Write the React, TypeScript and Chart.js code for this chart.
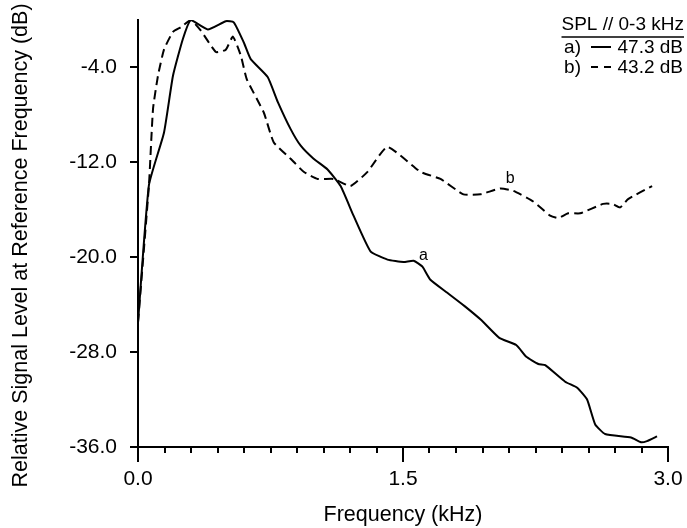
import React, { useEffect, useRef } from "react";
import { Chart, registerables } from "chart.js";

Chart.register(...registerables);

// Curve a) solid — frequency (kHz) and relative level (dB)
const FREQ_A = [0, 0.062, 0.147, 0.198, 0.254, 0.299, 0.395, 0.497, 0.542, 0.599, 0.638, 0.734, 0.791, 0.864, 0.921, 0.994, 1.073, 1.147, 1.22, 1.316, 1.412, 1.503, 1.56, 1.61, 1.655, 1.751, 1.847, 1.943, 2.045, 2.141, 2.198, 2.266, 2.305, 2.418, 2.486, 2.542, 2.588, 2.644, 2.791, 2.847, 2.881, 2.938];
const LEVEL_A = [-25.5, -13.9, -9.5, -4.7, -1.6, 0.0, -0.8, -0.1, -0.2, -1.9, -3.3, -4.8, -6.9, -9.2, -10.6, -11.7, -12.6, -14.0, -16.5, -19.5, -20.2, -20.4, -20.3, -20.8, -21.9, -23.0, -24.1, -25.3, -26.8, -27.4, -28.4, -29.0, -29.1, -30.5, -31.0, -32.0, -34.1, -34.9, -35.2, -35.6, -35.5, -35.1];

// Curve b) dashed
const FREQ_B = [0, 0.062, 0.085, 0.113, 0.147, 0.198, 0.243, 0.299, 0.356, 0.441, 0.497, 0.537, 0.582, 0.616, 0.712, 0.768, 0.864, 0.938, 1.017, 1.107, 1.203, 1.299, 1.412, 1.599, 1.712, 1.842, 1.938, 2.051, 2.124, 2.237, 2.333, 2.379, 2.435, 2.503, 2.633, 2.684, 2.729, 2.774, 2.91];
const LEVEL_B = [-25.5, -13.9, -7.5, -4.7, -2.5, -1.0, -0.6, 0.0, -0.9, -2.7, -2.5, -1.4, -3.0, -5.0, -7.8, -10.3, -11.7, -12.8, -13.4, -13.4, -14.0, -12.8, -10.7, -12.8, -13.4, -14.7, -14.7, -14.2, -14.4, -15.3, -16.5, -16.7, -16.3, -16.3, -15.5, -15.5, -15.8, -15.1, -14.0];

const X_TICKS = [0, 0.15, 0.3, 0.45, 0.6, 0.75, 0.9, 1.05, 1.2, 1.35, 1.5, 1.65, 1.8, 1.95, 2.1, 2.25, 2.4, 2.55, 2.7, 2.85, 3.0];
const X_MAJOR = [0, 1.5, 3.0];
const Y_TICKS = [-36, -28, -20, -12, -4];

const LABEL_A = { text: "a", x: 1.616, y: -19.9 };
const LABEL_B = { text: "b", x: 2.107, y: -13.4 };

const LEGEND_TITLE = "SPL // 0-3 kHz";
const LEGEND_ROWS = [
  { key: "a)", value: "47.3 dB", dash: [] as number[] },
  { key: "b)", value: "43.2 dB", dash: [7, 6] },
];

const FONT = "'Liberation Sans', Arial, Helvetica, sans-serif";

const overlayPlugin = {
  id: "overlay",
  afterDraw(chart: any) {
    const { ctx } = chart;
    const x = chart.scales.x;
    const y = chart.scales.y;
    ctx.save();
    ctx.strokeStyle = "#000";
    ctx.fillStyle = "#000";
    // long major ticks on the x axis
    ctx.lineWidth = 2;
    for (const v of X_MAJOR) {
      const px = Math.round(x.getPixelForValue(v));
      ctx.beginPath();
      ctx.moveTo(px, y.bottom);
      ctx.lineTo(px, y.bottom + 15);
      ctx.stroke();
    }
    // curve labels
    ctx.font = `16px ${FONT}`;
    ctx.textAlign = "center";
    ctx.textBaseline = "middle";
    for (const l of [LABEL_A, LABEL_B]) {
      ctx.fillText(l.text, x.getPixelForValue(l.x), y.getPixelForValue(l.y));
    }
    // legend
    ctx.font = `19px ${FONT}`;
    ctx.textAlign = "right";
    ctx.fillText(LEGEND_TITLE, 684, 25);
    const w = ctx.measureText(LEGEND_TITLE).width;
    ctx.lineWidth = 1.5;
    ctx.beginPath();
    ctx.moveTo(684 - w, 37);
    ctx.lineTo(684, 37);
    ctx.stroke();
    LEGEND_ROWS.forEach((r, i) => {
      const yy = 48 + i * 20;
      ctx.textAlign = "right";
      ctx.fillText(r.value, 683, yy);
      ctx.fillText(r.key, 581, yy);
      ctx.lineWidth = 2;
      ctx.setLineDash(r.dash);
      ctx.beginPath();
      ctx.moveTo(591, yy - 1);
      ctx.lineTo(611, yy - 1);
      ctx.stroke();
      ctx.setLineDash([]);
    });
    ctx.restore();
  },
};

export default function App() {
  const ref = useRef<HTMLCanvasElement | null>(null);
  useEffect(() => {
    if (!ref.current) return;
    const chart = new Chart(ref.current, {
      type: "line",
      data: {
        datasets: [
          {
            label: "a",
            data: FREQ_A.map((f, i) => ({ x: f, y: LEVEL_A[i] })),
            borderColor: "#000",
            borderWidth: 2,
            pointRadius: 0,
            tension: 0.15,
            fill: false,
          },
          {
            label: "b",
            data: FREQ_B.map((f, i) => ({ x: f, y: LEVEL_B[i] })),
            borderColor: "#000",
            borderWidth: 2,
            borderDash: [9, 5],
            pointRadius: 0,
            tension: 0.15,
            fill: false,
          },
        ],
      },
      options: {
        animation: false,
        responsive: false,
        devicePixelRatio: 1,
        layout: { padding: { top: 20, right: 19, left: 0, bottom: 0 } },
        plugins: { legend: { display: false }, tooltip: { enabled: false } },
        scales: {
          x: {
            type: "linear",
            min: 0,
            max: 3,
            afterFit: (s: any) => {
              s.height = 81;
              s.paddingLeft = 0;
              s.paddingRight = 0;
            },
            afterBuildTicks: (s: any) => {
              s.ticks = X_TICKS.map((v) => ({ value: v }));
            },
            ticks: {
              autoSkip: false,
              maxRotation: 0,
              padding: 14,
              color: "#000",
              font: { family: FONT, size: 21 },
              callback: (v: any) => (X_MAJOR.includes(Number(v)) ? Number(v).toFixed(1) : ""),
            },
            grid: { drawOnChartArea: false, drawTicks: true, tickLength: 6, color: "#000", lineWidth: 2 },
            border: { display: true, color: "#000", width: 2 },
            title: {
              display: true,
              text: "Frequency (kHz)",
              color: "#000",
              font: { family: FONT, size: 21.5 },
              padding: { top: 0, bottom: 0 },
            },
          },
          y: {
            type: "linear",
            min: -36,
            max: 0,
            afterFit: (s: any) => {
              s.width = 138;
              s.paddingTop = 0;
              s.paddingBottom = 0;
            },
            afterBuildTicks: (s: any) => {
              s.ticks = Y_TICKS.map((v) => ({ value: v }));
            },
            ticks: {
              padding: 13,
              color: "#000",
              font: { family: FONT, size: 21 },
              callback: (v: any) => Number(v).toFixed(1),
            },
            grid: { drawOnChartArea: false, drawTicks: true, tickLength: 8, color: "#000", lineWidth: 2 },
            border: { display: true, color: "#000", width: 2 },
            title: {
              display: true,
              text: "Relative Signal Level at Reference Frequency (dB)    ",
              color: "#000",
              font: { family: FONT, size: 21.5 },
              padding: { top: 8, bottom: 0 },
            },
          },
        },
      },
      plugins: [overlayPlugin],
    });
    return () => chart.destroy();
  }, []);
  return (
    <div style={{ position: "fixed", left: 0, top: 0, width: 687, height: 528, background: "#fff" }}>
      <canvas ref={ref} width={687} height={528} style={{ display: "block" }} />
    </div>
  );
}
